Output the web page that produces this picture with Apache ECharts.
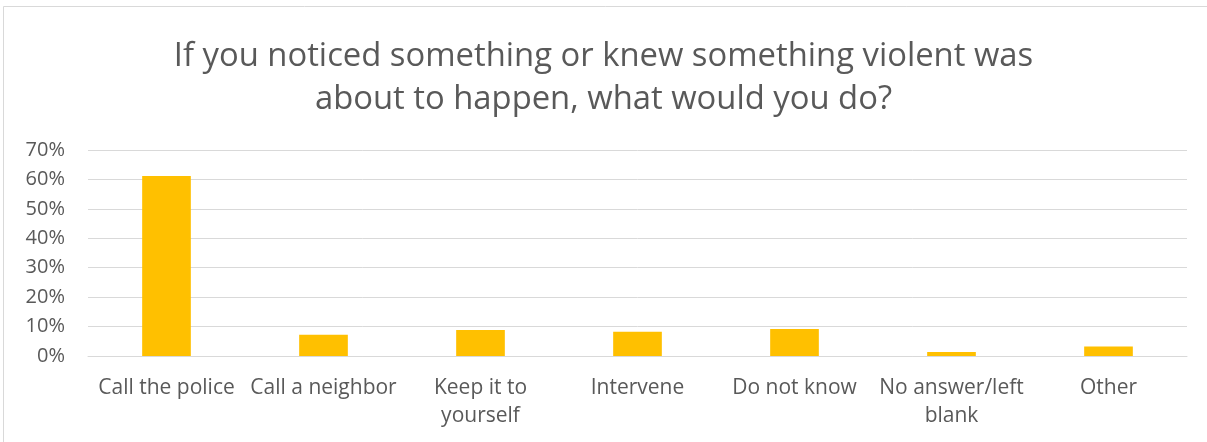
<!DOCTYPE html>
<html>
<head>
<meta charset="utf-8">
<script src="https://cdn.jsdelivr.net/npm/echarts@6/dist/echarts.min.js"></script>
<style>
html,body{margin:0;padding:0;background:#fff;}
#chart{width:1207px;height:442px;}
</style>
</head>
<body>
<div id="chart"></div>
<script>
const titleText = "If you noticed something or knew something violent was\nabout to happen, what would you do?";
const categories = ["Call the police", "Call a neighbor", "Keep it to\nyourself", "Intervene", "Do not know", "No answer/left\nblank", "Other"];
const values = [0.612, 0.072, 0.088, 0.082, 0.092, 0.014, 0.032];
const yTicks = [0, 0.1, 0.2, 0.3, 0.4, 0.5, 0.6, 0.7];

const FONT = "'Open Sans', 'Noto Sans', sans-serif";
const chart = echarts.init(document.getElementById('chart'), null, {renderer: 'canvas'});
chart.setOption({
  animation: false,
  backgroundColor: '#fff',
  title: {
    text: titleText,
    left: 'center',
    top: 30,
    textStyle: {color: '#595959', fontSize: 32.8, fontWeight: 'normal', fontFamily: FONT, lineHeight: 43}
  },
  graphic: [{
    type: 'rect',
    shape: {x: 3.5, y: 6.5, width: 1300, height: 500},
    style: {fill: 'none', stroke: '#d9d9d9', lineWidth: 1},
    silent: true
  }],
  grid: {left: 88, right: 20, top: 150, bottom: 86},
  xAxis: {
    type: 'category',
    data: categories,
    axisLine: {lineStyle: {color: '#d9d9d9', width: 1}},
    axisTick: {show: false},
    axisLabel: {interval: 0, color: '#595959', fontSize: 21, fontFamily: FONT, margin: 18, lineHeight: 28}
  },
  yAxis: {
    type: 'value',
    min: 0, max: 0.7, interval: 0.1,
    axisLine: {show: false},
    axisTick: {show: false},
    splitLine: {lineStyle: {color: '#d9d9d9', width: 1}},
    axisLabel: {color: '#595959', fontSize: 20, fontFamily: FONT, margin: 23,
      formatter: v => Math.round(v * 100) + '%'}
  },
  series: [{
    type: 'bar',
    data: values,
    barWidth: '31%',
    itemStyle: {color: '#FFC000'}
  }]
});
</script>
</body>
</html>
